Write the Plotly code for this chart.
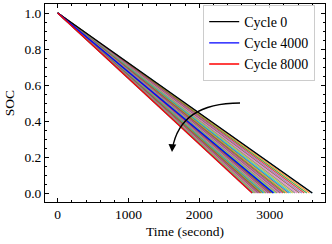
import plotly.graph_objects as go

# Discharge end times (s) for cycles 0..8000 step 200
cycles = list(range(0, 8001, 200))
end_times = [3600, 3561, 3523, 3487, 3451, 3417, 3384, 3353, 3322, 3293,
             3265, 3238, 3212, 3188, 3164, 3142, 3121, 3102, 3083, 3066,
             3050, 3035, 3020, 3005, 2990, 2975, 2960, 2945, 2930, 2915,
             2900, 2885, 2870, 2855, 2840, 2825, 2810, 2795, 2780, 2765,
             2750]
soc_start = 1.0
soc_end = 0.0
highlight = {0: ("Cycle 0", "black"), 4000: ("Cycle 4000", "blue"), 8000: ("Cycle 8000", "red")}

tab10 = ['#1f77b4', '#ff7f0e', '#2ca02c', '#d62728', '#9467bd',
         '#8c564b', '#e377c2', '#7f7f7f', '#bcbd22', '#17becf']

fig = go.Figure()
for i, (c, t) in enumerate(zip(cycles, end_times)):
    fig.add_trace(go.Scatter(x=[0, t], y=[soc_start, soc_end], mode="lines",
                             line=dict(color=tab10[i % 10], width=1.1),
                             opacity=0.85, showlegend=False, hoverinfo="skip"))
for c in [0, 4000, 8000]:
    t = end_times[cycles.index(c)]
    name, col = highlight[c]
    fig.add_trace(go.Scatter(x=[0, t], y=[soc_start, soc_end], mode="lines",
                             name=name, line=dict(color=col, width=1.3)))

font = dict(family="Liberation Serif", size=13.5, color="black")
lfont = dict(family="Liberation Serif", size=14, color="black")

fig.add_shape(type="path", path="M 2578,0.5 Q 1729,0.5 1622,0.245",
              xref="x", yref="y", line=dict(color="black", width=1.3))
fig.add_annotation(x=1616, y=0.228, ax=1622, ay=0.27, xref="x", yref="y",
                   axref="x", ayref="y", text="", showarrow=True,
                   arrowhead=2, arrowsize=1.2, arrowwidth=1.3, arrowcolor="black")

axis_common = dict(showline=True, linecolor="black", linewidth=1, mirror="allticks",
                   ticks="inside", ticklen=4, tickcolor="black", tickwidth=1,
                   showgrid=False, zeroline=False, tickfont=font, automargin=False)

fig.update_xaxes(range=[-180, 3780], tickvals=[0, 1000, 2000, 3000],
                 minor=dict(ticks="inside", ticklen=2, dtick=200, tick0=0, tickcolor="black"),
                 title=dict(text="Time (second)", font=font, standoff=5), **axis_common)
fig.update_yaxes(range=[-0.05, 1.05], tickvals=[0, 0.2, 0.4, 0.6, 0.8, 1.0],
                 tickformat=".1f",
                 minor=dict(ticks="inside", ticklen=2, dtick=0.05, tick0=0, tickcolor="black"),
                 title=dict(text="SOC", font=font, standoff=6), **axis_common)

fig.update_layout(width=332, height=244, margin=dict(l=45, r=7, t=4, b=42),
                  plot_bgcolor="white", paper_bgcolor="white", font=font,
                  legend=dict(x=0.965, y=0.995, xanchor="right", yanchor="top",
                              bgcolor="rgba(255,255,255,0.8)", bordercolor="#cccccc",
                              borderwidth=1, font=lfont, tracegroupgap=0,
                              itemwidth=30))

fig.write_html("out.html", config={"displayModeBar": False},
               post_script="document.body.style.margin='0';")
